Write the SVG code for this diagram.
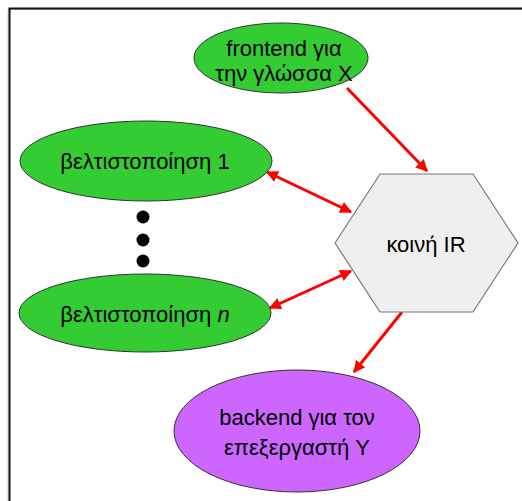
<svg xmlns="http://www.w3.org/2000/svg" width="522" height="501" viewBox="0 0 522 501">
<style>
.t{font-family:"Liberation Sans",Arial,sans-serif;font-size:22px;fill:#000;text-anchor:middle}
.g{fill:#33cc33;stroke:#333;stroke-width:1}
.c{stroke:#ff0000;stroke-width:3;fill:none}
</style>
<defs>
<marker id="ah" viewBox="0 0 10 10" refX="9" refY="5" markerWidth="4" markerHeight="4" orient="auto-start-reverse" markerUnits="strokeWidth">
<path d="M0,0 L10,5 L0,10 z" fill="#ff0000"/>
</marker>
</defs>
<rect width="522" height="501" fill="#fff"/>
<g id="frame">
<path d="M8,502 V9.5 H522" fill="none" stroke="#ccc" stroke-width="1"/>
<path d="M9.5,501 V8.5 H522" fill="none" stroke="#111" stroke-width="2"/>
</g>
<g id="connectors">
<line class="c" x1="347" y1="88" x2="427" y2="171" marker-end="url(#ah)"/>
<line class="c" x1="267" y1="172" x2="351" y2="212" marker-start="url(#ah)" marker-end="url(#ah)"/>
<line class="c" x1="270" y1="308" x2="351" y2="271" marker-start="url(#ah)" marker-end="url(#ah)"/>
<line class="c" x1="402" y1="312" x2="354" y2="372" marker-end="url(#ah)"/>
</g>
<g id="frontend">
<ellipse class="g" cx="281" cy="58" rx="87" ry="35"/>
<text class="t" x="284" y="56">frontend για</text>
<text class="t" x="284" y="81">την γλώσσα X</text>
</g>
<g id="ir">
<polygon points="335,243 380,174 473,174 518,243 473,312 380,312" fill="#efefef" stroke="#777" stroke-width="1.2"/>
<text class="t" x="426" y="252">κοινή IR</text>
</g>
<g id="opt1">
<ellipse class="g" cx="146" cy="161" rx="126" ry="40"/>
<text class="t" x="145" y="169">βελτιστοποίηση 1</text>
</g>
<g id="dots">
<circle cx="143" cy="217" r="6.5" fill="#000"/>
<circle cx="143" cy="240" r="6.5" fill="#000"/>
<circle cx="143" cy="261" r="6.5" fill="#000"/>
</g>
<g id="optn">
<ellipse class="g" cx="145" cy="313" rx="126" ry="39"/>
<text class="t" x="145" y="322">βελτιστοποίηση <tspan font-style="italic">n</tspan></text>
</g>
<g id="backend">
<ellipse cx="297" cy="431" rx="123" ry="61" fill="#cc66ff" stroke="#333" stroke-width="1"/>
<text class="t" x="297" y="425">backend για τον</text>
<text class="t" x="297" y="455">επεξεργαστή Y</text>
</g>
</svg>
